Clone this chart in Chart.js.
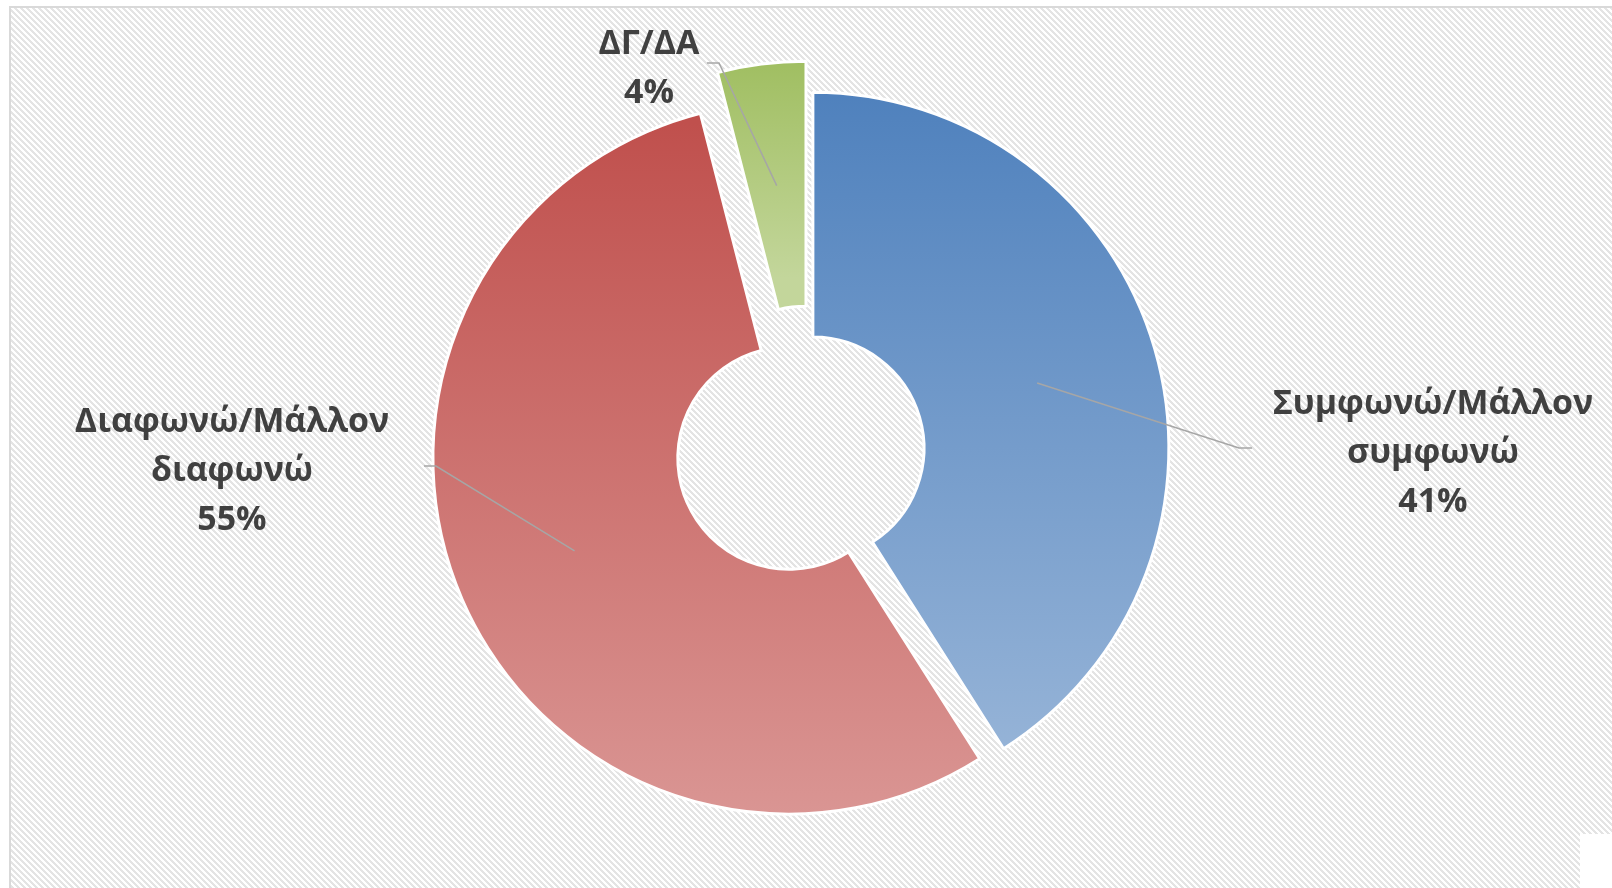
<!DOCTYPE html>
<html>
<head>
<meta charset="utf-8">
<script src="https://cdn.jsdelivr.net/npm/chart.js@4.4.0/dist/chart.umd.min.js"></script>
<style>
  html, body { margin: 0; padding: 0; background: #fff; overflow: hidden; }
</style>
</head>
<body>
<canvas id="myChart" width="1612" height="888"></canvas>
<script>
// data
var categories = ['Συμφωνώ/Μάλλον συμφωνώ', 'Διαφωνώ/Μάλλον διαφωνώ', 'ΔΓ/ΔΑ'];
var labelLines = [['Συμφωνώ/Μάλλον', 'συμφωνώ'], ['Διαφωνώ/Μάλλον', 'διαφωνώ'], ['ΔΓ/ΔΑ']];
var percentages = [41, 55, 4];

// styles
var topColors = ['#4f81bd', '#c0504d', '#9bbb59'];
var bottomColors = ['#95b3d7', '#da9694', '#c3d69b'];
var explodeDist = [3, 23, 32];   // px each slice is pulled out along its mid angle
var OUTER_R = 356;
var CUTOUT = '31.2%';
var INNER_R = OUTER_R * 0.312;

// label block: centre x, first line centre y, leader elbow and end
var labelPos = [
  { x: 1433, y: 404, elbow: [1239, 448], end: [1252, 448] },
  { x: 232, y: 422, elbow: [436, 466], end: [424, 466] },
  { x: 649, y: 44, elbow: [719, 63], end: [707, 63] }
];
var LINE_H = 49;

function midAngle(i) {
  var total = percentages.reduce(function (a, b) { return a + b; }, 0);
  var before = 0;
  for (var k = 0; k < i; k++) before += percentages[k];
  var a0 = -Math.PI / 2 + before / total * 2 * Math.PI;
  var a1 = a0 + percentages[i] / total * 2 * Math.PI;
  return { a0: a0, a1: a1, mid: (a0 + a1) / 2 };
}

function sliceGradient(context) {
  var chart = context.chart, area = chart.chartArea, i = context.dataIndex;
  if (!area) return topColors[i];
  var ang = midAngle(i);
  var cy = (area.top + area.bottom) / 2 + Math.sin(ang.mid) * explodeDist[i];
  var minY = Infinity, maxY = -Infinity;
  for (var s = 0; s <= 80; s++) {
    var a = ang.a0 + (ang.a1 - ang.a0) * s / 80;
    [OUTER_R, INNER_R].forEach(function (rr) {
      var y = cy + Math.sin(a) * rr;
      minY = Math.min(minY, y);
      maxY = Math.max(maxY, y);
    });
  }
  var g = chart.ctx.createLinearGradient(0, minY, 0, maxY);
  g.addColorStop(0, topColors[i]);
  g.addColorStop(1, bottomColors[i]);
  return g;
}

// hatch pattern
var pc = document.createElement('canvas');
pc.width = 6; pc.height = 6;
var pctx = pc.getContext('2d');
pctx.fillStyle = '#ffffff';
pctx.fillRect(0, 0, 6, 6);
pctx.fillStyle = '#e4e4e4';
for (var py = 0; py < 6; py++) {
  for (var px = 0; px < 6; px++) {
    if ((((px - py) % 6) + 6) % 6 < 3) pctx.fillRect(px, py, 1, 1);
  }
}

var backgroundPlugin = {
  id: 'hatchBackground',
  beforeDraw: function (chart) {
    var c = chart.ctx;
    c.save();
    c.fillStyle = '#ffffff';
    c.fillRect(0, 0, chart.width, chart.height);
    c.fillStyle = c.createPattern(pc, 'repeat');
    c.fillRect(11, 8, chart.width - 11, chart.height - 8);
    c.strokeStyle = '#d9d9d9';
    c.lineWidth = 2;
    c.beginPath();
    c.moveTo(10, chart.height);
    c.lineTo(10, 7);
    c.lineTo(chart.width, 7);
    c.stroke();
    c.fillStyle = '#ffffff';
    c.fillRect(1580, 834, chart.width - 1580, chart.height - 834);
    c.restore();
  }
};

// draw each arc pulled out along its mid angle (Excel style explosion)
var explodePlugin = {
  id: 'explodeSlices',
  beforeDatasetDraw: function (chart, args) {
    var c = chart.ctx;
    var arcs = args.meta.data;
    arcs.forEach(function (arc, i) {
      var mid = (arc.startAngle + arc.endAngle) / 2;
      c.save();
      c.translate(Math.cos(mid) * explodeDist[i], Math.sin(mid) * explodeDist[i]);
      arc.draw(c, chart.chartArea);
      c.restore();
    });
    return false;
  }
};

var labelPlugin = {
  id: 'sliceLabels',
  afterDatasetsDraw: function (chart) {
    var c = chart.ctx;
    var arcs = chart.getDatasetMeta(0).data;
    c.save();
    // font size fitted to the widest label line
    c.font = 'bold 100px "Open Sans"';
    var size = 100 * 321 / c.measureText('Συμφωνώ/Μάλλον').width;
    arcs.forEach(function (arc, i) {
      var p = arc.getCenterPoint();
      var mid = (arc.startAngle + arc.endAngle) / 2;
      var sx = p.x + Math.cos(mid) * explodeDist[i];
      var sy = p.y + Math.sin(mid) * explodeDist[i];
      var lp = labelPos[i];
      c.strokeStyle = '#a6a6a6';
      c.lineWidth = 1.5;
      c.beginPath();
      c.moveTo(sx, sy);
      c.lineTo(lp.elbow[0], lp.elbow[1]);
      c.lineTo(lp.end[0], lp.end[1]);
      c.stroke();
      c.fillStyle = '#404040';
      c.font = 'bold ' + size.toFixed(1) + 'px "Open Sans"';
      c.textAlign = 'center';
      c.textBaseline = 'middle';
      var lines = labelLines[i].concat([percentages[i] + '%']);
      lines.forEach(function (t, j) {
        c.fillText(t, lp.x, lp.y + j * LINE_H);
      });
    });
    c.restore();
  }
};

var ctx = document.getElementById('myChart').getContext('2d');
var myChart = new Chart(ctx, {
  type: 'doughnut',
  data: {
    labels: categories,
    datasets: [{
      data: percentages,
      backgroundColor: sliceGradient,
      borderColor: '#ffffff',
      borderWidth: 3
    }]
  },
  options: {
    responsive: false,
    animation: false,
    events: [],
    radius: OUTER_R,
    cutout: CUTOUT,
    layout: { padding: { left: 8, right: 0, top: 10, bottom: 0 } },
    plugins: {
      legend: { display: false },
      tooltip: { enabled: false }
    }
  },
  plugins: [backgroundPlugin, explodePlugin, labelPlugin]
});
</script>
</body>
</html>
